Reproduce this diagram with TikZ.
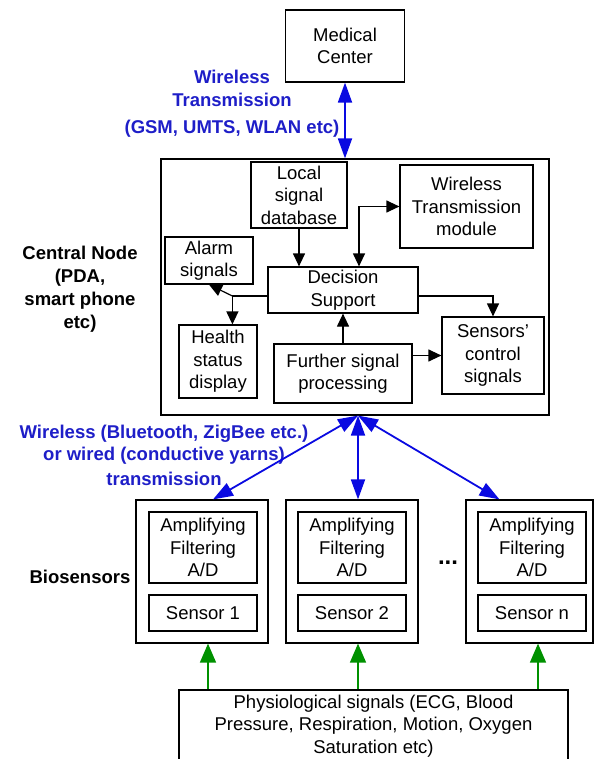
\documentclass[tikz,border=0pt]{standalone}
\usepackage{fontspec}
\setmainfont{Liberation Sans}
\usepackage{tikz}
\usetikzlibrary{arrows.meta, positioning, calc}

\definecolor{linkblue}{RGB}{10,10,225}
\definecolor{textblue}{RGB}{30,30,200}
\definecolor{siggreen}{RGB}{0,145,0}

\tikzset{
  box/.style={draw, line width=1.2pt, align=center, inner sep=0pt,
    font=\fontsize{18.5}{22.5}\selectfont},
  flow/.style={line width=1.2pt, -{Triangle[length=13pt,width=12pt]}},
  flow2/.style={line width=1.2pt,
    {Triangle[length=13pt,width=12pt]}-{Triangle[length=13pt,width=12pt]}},
  radio/.style={draw=linkblue, line width=1.8pt,
    {Triangle[length=20pt,width=14pt]}-{Triangle[length=20pt,width=14pt]}},
  feed/.style={draw=siggreen, line width=1.5pt, -{Triangle[length=19pt,width=16pt]}},
  bluelbl/.style={text=textblue, align=center,
    font=\fontsize{18.5}{22.5}\selectfont\bfseries},
  blacklbl/.style={align=center, font=\fontsize{18.5}{23}\selectfont\bfseries}
}

\begin{document}
\begin{tikzpicture}[x=1pt, y=-1pt]
  \useasboundingbox (0,0) rectangle (594,759);

  % --- Medical center ---
  \node[box, minimum width=119, minimum height=72] (med) at (345,46) {Medical\\Center};

  % --- Central node and its blocks ---
  \node[box, minimum width=388, minimum height=256] (central) at (355,287) {};
  \node[box, minimum width=96, minimum height=66] (db) at (299,195) {Local\\signal\\database};
  \node[box, minimum width=133, minimum height=83] (wtm) at (466.5,206.5) {Wireless\\Transmission\\module};
  \node[box, minimum width=88, minimum height=47] (alarm) at (209,260.5) {Alarm\\signals};
  \node[box, minimum width=150, minimum height=46] (dec) at (343,290) {Decision\\Support};
  \node[box, minimum width=78, minimum height=73] (health) at (218,361.5) {Health\\status\\display};
  \node[box, minimum width=138, minimum height=59] (further) at (343,373.5) {Further signal\\processing};
  \node[box, minimum width=102, minimum height=77] (sctrl) at (493,355.5) {Sensors'\\control\\signals};

  % --- Biosensors ---
  \foreach \k/\x/\xi/\w in {1/202/203/132, 2/352/352/132, n/529.5/532/127} {
    \node[box, minimum width=\w, minimum height=143] (s\k) at (\x,571.5) {};
    \node[box, minimum width=108, minimum height=71] (amp\k) at (\xi,547.5) {Amplifying\\Filtering\\A/D};
    \node[box, minimum width=108, minimum height=36] (sen\k) at (\xi,613) {Sensor \k};
  }
  \node[font=\fontsize{24}{24}\selectfont\bfseries] (dots) at (448,563) {...};

  % --- Physiological signals ---
  \node[box, minimum width=389, minimum height=72] (phys) at (373.5,726)
    {Physiological signals (ECG, Blood\\Pressure, Respiration, Motion, Oxygen\\Saturation etc)};

  % --- Labels ---
  \node[bluelbl] (wanlbl) at (232,104) {Wireless\\Transmission\\[5pt](GSM, UMTS, WLAN etc)};
  \node[bluelbl] (banlbl) at (164,455) {Wireless (Bluetooth, ZigBee etc.)\\or wired (conductive yarns)\\[2pt]transmission};
  \node[blacklbl] (cnlbl) at (80,289) {Central Node\\(PDA,\\smart phone\\etc)};
  \node[blacklbl] (bslbl) at (80,577) {Biosensors};

  % --- Links inside the central node ---
  \draw[radio] (med.south) -- (med.south |- central.north);
  \draw[flow] (db.south) -- (db.south |- dec.north);
  \draw[flow2] (wtm.west) -| ($(dec.north)+(16,0)$);
  \coordinate (split) at ($(dec.west)+(-35,6)$);
  \draw[flow] ([yshift=-6pt]dec.west) -| (split |- health.north);
  \draw[flow] (split) -- (alarm.south);
  \draw[flow] ([yshift=-6pt]dec.east) -| (sctrl.north);
  \draw[flow] (further.north) -- (dec.south);
  \draw[flow] (further.east |- sctrl.west) -- (sctrl.west);

  % --- Body area links ---
  \coordinate (tap) at ($(central.south)+(3,0)$);
  \draw[radio] (tap) -- ($(s1.north)+(11,0)$);
  \draw[radio] (tap) -- ($(s2.north)+(6,0)$);
  \draw[radio] (tap) -- ($(sn.north)+(-30,0)$);

  % --- Signals into the sensors ---
  \foreach \k/\dx in {1/6, 2/6, n/8.5} {
    \path ($(s\k.south)+(\dx,0)$) coordinate (in\k);
    \draw[feed] (in\k |- phys.north) -- (in\k);
  }
\end{tikzpicture}
\end{document}
